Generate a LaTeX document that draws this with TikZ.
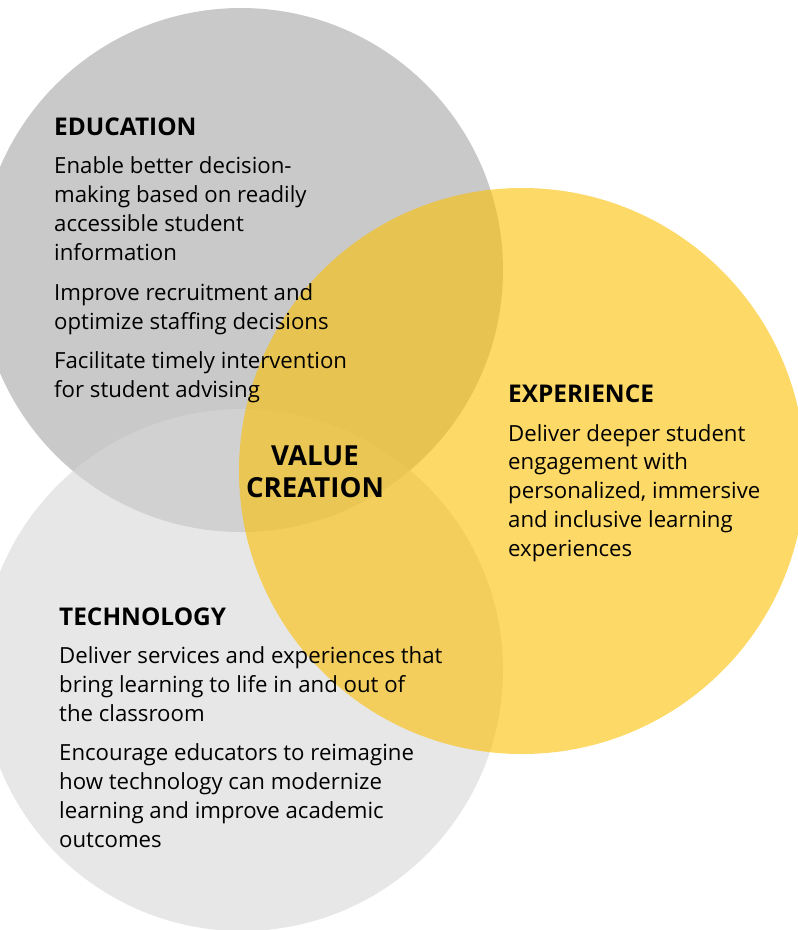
\documentclass[tikz,border=0pt]{standalone}
\usepackage{fontspec}
\setmainfont{Open Sans}
\usepackage{xcolor}
\usetikzlibrary{positioning}
\definecolor{edugray}{RGB}{201,201,201}
\definecolor{techgray}{RGB}{215,215,215}
\definecolor{expyellow}{RGB}{252,191,2}

\tikzset{
  heading/.style={anchor=base west, inner sep=0pt, font=\fontsize{24.4}{28.7}\selectfont\bfseries},
  bodytext/.style={anchor=base west, inner sep=0pt, align=left, font=\fontsize{22.2}{28.7}\selectfont},
  centre/.style={anchor=base, inner sep=0pt, align=center, font=\fontsize{27.6}{32}\selectfont\bfseries},
}

\begin{document}
\begin{tikzpicture}[x=1pt,y=-1pt]
    \useasboundingbox (0,0) rectangle (798,930);

    % Define the circles
    \def\eduR{262pt}
    \def\techR{261pt}
    \def\expR{283pt}

    % Draw circles
    \fill[edugray] (241,270) circle (\eduR);
    \fill[techgray, opacity=0.6] (242,670) circle (\techR);
    \fill[expyellow, opacity=0.6] (522,471) circle (\expR);

    % Education labels (placed at the baseline of the last line)
    \node[heading] (eduhead) at (54,135) {EDUCATION};
    \node[bodytext] (edua) at (54,260) {Enable better decision-\\making based on readily\\accessible student\\information};
    \node[bodytext] (edub) at (54,329) {Improve recruitment and\\optimize staffing decisions};
    \node[bodytext] (educ) at (54,397) {Facilitate timely intervention\\for student advising};

    % Centre label
    \node[centre] (value) at (315,497) {VALUE\\CREATION};

    % Experience labels
    \node[heading] (exphead) at (508,402) {EXPERIENCE};
    \node[bodytext] (expa) at (508,556) {Deliver deeper student\\engagement with\\personalized, immersive\\and inclusive learning\\experiences};

    % Technology labels
    \node[heading] (techhead) at (59,625) {TECHNOLOGY};
    \node[bodytext] (techa) at (59,721) {Deliver services and experiences that\\bring learning to life in and out of\\the classroom};
    \node[bodytext] (techb) at (59,847) {Encourage educators to reimagine\\how technology can modernize\\learning and improve academic\\outcomes};
\end{tikzpicture}
\end{document}
